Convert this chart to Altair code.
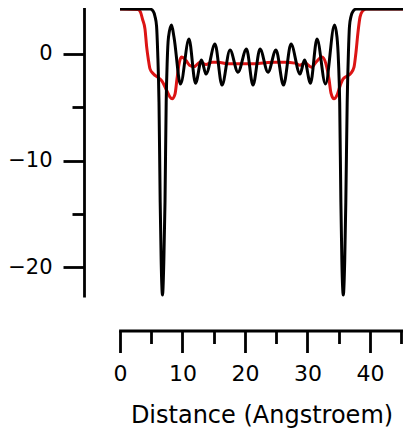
import altair as alt
import pandas as pd

# Black curve (distance in Angstroem, value)
black_x = [0.0, 4.8, 5.3, 5.6, 5.85, 6.03, 6.24, 6.43, 6.59, 6.8, 7.01, 7.2, 7.39, 7.55, 7.76,
           8.24, 8.64, 9.68, 11.04, 12.08, 13.04, 13.76, 15.2, 16.32, 17.6, 18.88, 20.24,
           21.28, 22.4, 23.68, 24.96, 26.16, 27.36, 28.8, 29.52, 30.48, 31.52, 32.88, 34.32,
           34.72, 34.96, 35.15, 35.34, 35.5, 35.73, 35.95, 36.13, 36.35, 36.55, 36.72,
           36.96, 37.3, 37.8, 45.28]
black_y = [4.19, 4.19, 4.0, 3.5, 2.6, 0.16, -4.53, -13.9, -19.5, -22.6, -19.5, -13.9, -4.53, -0.78, 1.56,
           2.69, 1.56, -2.84, 1.38, -2.75, -0.59, -1.9, 0.91, -2.93, 0.35, -1.72, 0.44,
           -2.93, 0.44, -1.72, 0.35, -2.93, 0.91, -1.9, -0.59, -2.75, 1.38, -2.84, 2.69,
           1.56, -0.78, -4.53, -13.9, -19.5, -22.6, -19.5, -13.9, -4.53, 0.16, 2.6,
           3.5, 4.0, 4.19, 4.19]

# Red curve
red_x = [0.0, 2.88, 3.28, 3.6, 4.0, 4.27, 4.53, 4.8, 5.33, 6.13, 6.72, 7.47, 8.0, 8.35, 8.8,
         9.12, 9.44, 9.84, 10.56, 11.12, 11.84, 12.8, 13.76, 14.72, 15.68, 17.28, 19.2,
         21.28, 23.2, 24.8, 26.4, 28.0, 28.8, 29.6, 30.64, 31.36, 32.32, 32.96, 33.44,
         33.76, 34.24, 34.72, 35.2, 35.68, 36.32, 36.96, 37.44, 37.76, 38.08, 38.4, 38.8,
         39.36, 45.28]
red_y = [4.19, 4.16, 3.91, 3.25, 2.31, 0.63, -0.5, -1.41, -1.87, -2.23, -2.56, -3.43, -4.06, -4.22, -3.78,
         -2.34, -0.97, -0.31, -0.64, -1.06, -1.2, -0.78, -1.01, -0.78, -0.78, -0.94, -0.94,
         -0.94, -0.84, -0.78, -0.78, -0.87, -1.06, -0.87, -1.25, -0.78, -0.31, -0.97, -2.37,
         -3.68, -4.22, -3.87, -3.03, -2.37, -2.09, -1.81, -1.25, 0.16, 2.03, 3.44, 4.0,
         4.19, 4.19]

x_major = [0, 10, 20, 30, 40]
x_minor = [5, 15, 25, 35, 45]
y_major = [0, -10, -20]
y_minor = [-5, -15]

black_df = pd.DataFrame({"d": black_x, "v": black_y})
red_df = pd.DataFrame({"d": red_x, "v": red_y})

FONT = "DejaVu Sans"
xscale = alt.Scale(domain=[0, 45.28], nice=False, zero=False)
yscale = alt.Scale(domain=[-22.65, 4.2], nice=False, zero=False)

red = alt.Chart(red_df).mark_line(color="#dc1414", strokeWidth=3, interpolate="monotone").encode(
    x=alt.X("d:Q", scale=xscale,
            axis=alt.Axis(orient="bottom", values=x_major, tickSize=22, offset=35,
                          title="Distance (Angstroem)", labelPadding=11, titlePadding=19,
                          labelFontSize=22, labelFlush=False, format="d")),
    y=alt.Y("v:Q", scale=yscale,
            axis=alt.Axis(orient="left", values=y_major, tickSize=21, offset=36,
                          title=None, labelPadding=11, labelFontSize=21, labelFlush=False,
                          format="d")),
    order=alt.Order("d:Q"),
)

black = alt.Chart(black_df).mark_line(color="black", strokeWidth=3, interpolate="monotone").encode(
    x=alt.X("d:Q", scale=xscale,
            axis=alt.Axis(orient="bottom", values=x_minor, tickSize=13, offset=35,
                          title=None, labels=False, domain=False)),
    y=alt.Y("v:Q", scale=yscale,
            axis=alt.Axis(orient="left", values=y_minor, tickSize=12, offset=36,
                          title=None, labels=False, domain=False)),
    order=alt.Order("d:Q"),
)

chart = alt.layer(red, black).resolve_axis(x="independent", y="independent").properties(
    width=283, height=286.5,
    autosize=alt.AutoSizeParams(type="none"),
    padding={"left": 112, "top": 1, "right": 0, "bottom": 134.5},
).configure_view(stroke=None).configure_axis(
    grid=False, domainColor="black", tickColor="black", domainWidth=2.8, tickWidth=2.8,
    labelFont=FONT, labelColor="black",
    titleFont=FONT, titleFontSize=24, titleFontWeight="normal", titleColor="black",
    domainCap="square",
)

chart.save("out.html", embed_options={"renderer": "svg", "actions": False})
